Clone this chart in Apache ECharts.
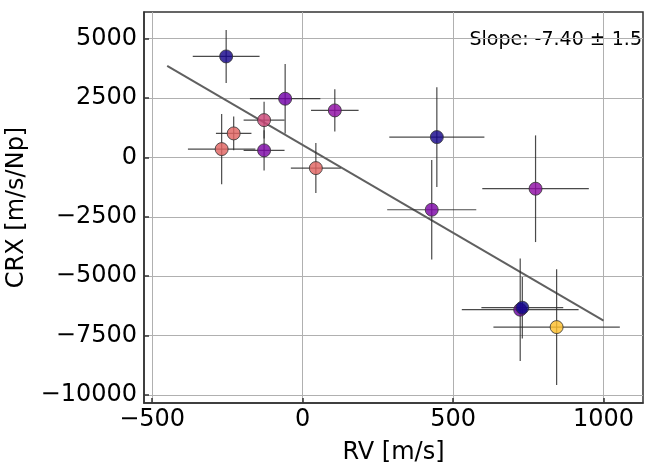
<!DOCTYPE html>
<html>
<head>
<meta charset="utf-8">
<script src="https://cdn.jsdelivr.net/npm/echarts@6/dist/echarts.min.js"></script>
<style>html,body{margin:0;padding:0;background:#fff;}#chart{width:646px;height:465px;}</style>
</head>
<body>
<div id="chart"></div>
<script>
// RV [m/s]
const rv = [-254, -58, 107, -128, -229, -269, -128, 44, 446, 774, 429, 723, 730, 844];
// CRX [m/s/Np]
const crx = [4250, 2470, 1978, 1570, 1010, 350, 295, -450, 855, -1318, -2203, -6410, -6326, -7142];
const rvErr = [111, 117, 79, 68, 59, 112, 68, 83, 158, 177, 148, 194, 136, 210];
const crxErr = [1115, 1460, 891, 770, 707, 1480, 850, 1052, 2100, 2245, 2098, 2160, 1297, 2434];
// colour variable (plasma colormap, 0..1)
const colorVar = [0.02, 0.22, 0.3, 0.5, 0.6, 0.6, 0.25, 0.6, 0.02, 0.3, 0.25, 0.2, 0.0, 0.86];
// fitted line
const fitX = [-450, 1000];
const fitY = [3856, -6874];
const slopeText = 'Slope: -7.40 \u00b1 1.5';
const xTicks = [-500, 0, 500, 1000];
const yTicks = [-10000, -7500, -5000, -2500, 0, 2500, 5000];

const plasma = ['#0d0887','#41049d','#6a00a8','#8f0da4','#b12a90','#cc4778','#e16462','#f2844b','#fca636','#fcce25','#f0f921'];
const FONT = 'DejaVu Sans';
const minus = v => String(v).replace('-', '\u2212');

const errData = rv.map((x, i) => [x, crx[i], rvErr[i], crxErr[i]]);
const ptData = rv.map((x, i) => [x, crx[i], colorVar[i]]);

const chart = echarts.init(document.getElementById('chart'), null, {renderer: 'canvas'});
chart.setOption({
  animation: false,
  backgroundColor: '#fff',
  grid: {left: 144, right: 3, top: 12, bottom: 62, containLabel: false, outerBoundsMode: 'none',
         show: true, borderColor: '#333', borderWidth: 1.5, backgroundColor: 'transparent'},
  xAxis: {
    type: 'value', min: -527, max: 1131,
    name: 'RV [m/s]', nameLocation: 'middle', nameGap: 38,
    nameTextStyle: {fontFamily: FONT, fontSize: 24, color: '#000'},
    axisLine: {show: true, onZero: false, lineStyle: {color: '#333', width: 1.5}},
    axisTick: {show: true, inside: true, length: 5, customValues: xTicks, lineStyle: {color: '#333', width: 1.5}},
    axisLabel: {customValues: xTicks, fontFamily: FONT, fontSize: 24, color: '#000', margin: 5, formatter: minus},
    splitLine: {show: true, lineStyle: {color: '#b0b0b0', width: 1}}
  },
  yAxis: {
    type: 'value', min: -10337, max: 6120,
    name: 'CRX [m/s/Np]', nameLocation: 'middle', nameGap: 115,
    nameTextStyle: {fontFamily: FONT, fontSize: 24, color: '#000'},
    axisLine: {show: true, onZero: false, lineStyle: {color: '#333', width: 1.5}},
    axisTick: {show: true, inside: true, length: 5, customValues: yTicks, lineStyle: {color: '#333', width: 1.5}},
    axisLabel: {customValues: yTicks, fontFamily: FONT, fontSize: 24, color: '#000', margin: 7, formatter: minus},
    splitLine: {show: true, lineStyle: {color: '#b0b0b0', width: 1}}
  },
  visualMap: {show: false, type: 'continuous', min: 0, max: 1, dimension: 2, seriesIndex: 2, inRange: {color: plasma}},
  series: [
    {
      type: 'line', data: fitX.map((x, i) => [x, fitY[i]]), symbol: 'none',
      lineStyle: {color: '#606060', width: 2}, z: 1
    },
    {
      type: 'custom', data: errData, z: 2,
      renderItem: function (params, api) {
        const x = api.value(0), y = api.value(1), xe = api.value(2), ye = api.value(3);
        const l = api.coord([x - xe, y]), r = api.coord([x + xe, y]);
        const t = api.coord([x, y + ye]), b = api.coord([x, y - ye]);
        const st = {stroke: '#2a2a2a', lineWidth: 1.2, opacity: 0.85};
        return {type: 'group', children: [
          {type: 'line', shape: {x1: l[0], y1: l[1], x2: r[0], y2: r[1]}, style: st},
          {type: 'line', shape: {x1: t[0], y1: t[1], x2: b[0], y2: b[1]}, style: st}
        ]};
      }
    },
    {
      type: 'scatter', data: ptData, symbolSize: 13, z: 3,
      itemStyle: {opacity: 0.82, borderColor: '#333', borderWidth: 1}
    }
  ],
  graphic: [{
    type: 'text', right: 4, top: 31,
    style: {text: slopeText, font: '19px "DejaVu Sans"', fill: '#000'}
  }]
});
</script>
</body>
</html>
